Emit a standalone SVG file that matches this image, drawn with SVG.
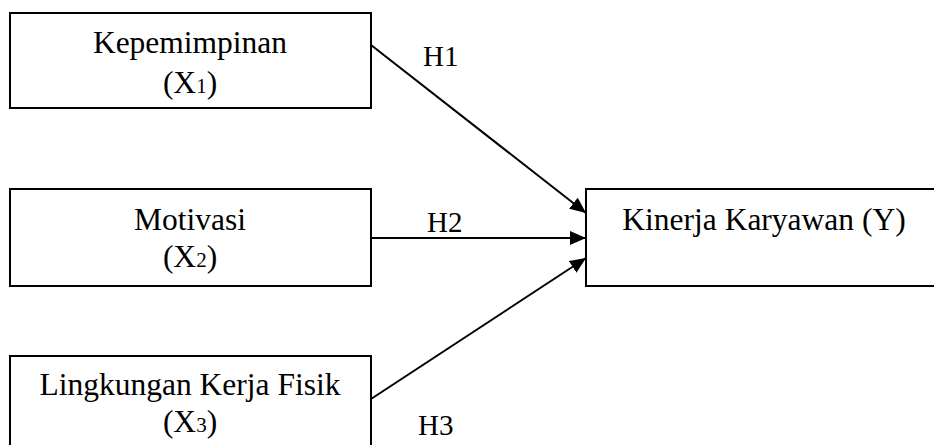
<svg xmlns="http://www.w3.org/2000/svg" width="934" height="445" viewBox="0 0 934 445">
  <style>
    .box { fill: #fff; stroke: #000; stroke-width: 2; }
    .lbl { font-family: "Liberation Serif", "Times New Roman", serif; font-size: 31.5px; fill: #000; text-anchor: middle; }
    .sub { font-size: 21px; }
    .edge { stroke: #000; stroke-width: 2; fill: none; marker-end: url(#arrow); }
    .h { font-family: "Liberation Serif", "Times New Roman", serif; font-size: 29px; fill: #000; }
  </style>
  <defs>
    <marker id="arrow" markerUnits="userSpaceOnUse" markerWidth="16" markerHeight="14" refX="16" refY="7" orient="auto">
      <path d="M0,0 L16,7 L0,14 Z" fill="#000"/>
    </marker>
  </defs>
  <rect width="934" height="445" fill="#fff"/>

  <g id="node-x1">
    <rect class="box" x="10" y="13" width="361" height="95"/>
    <text class="lbl" x="190" y="53">Kepemimpinan</text>
    <text class="lbl" x="190" y="93">(X<tspan class="sub">1</tspan>)</text>
  </g>

  <g id="node-x2">
    <rect class="box" x="10" y="189" width="361" height="97"/>
    <text class="lbl" x="190" y="230">Motivasi</text>
    <text class="lbl" x="190" y="267">(X<tspan class="sub">2</tspan>)</text>
  </g>

  <g id="node-x3">
    <rect class="box" x="10" y="356" width="361" height="100"/>
    <text class="lbl" x="190" y="395">Lingkungan Kerja Fisik</text>
    <text class="lbl" x="190" y="432">(X<tspan class="sub">3</tspan>)</text>
  </g>

  <g id="node-y">
    <rect class="box" x="586" y="189" width="360" height="97"/>
    <text class="lbl" x="764" y="230">Kinerja Karyawan (Y)</text>
  </g>

  <g id="connectors">
    <line class="edge" x1="371" y1="45" x2="586" y2="213"/>
    <line class="edge" x1="371" y1="238" x2="586" y2="238"/>
    <line class="edge" x1="371" y1="399" x2="586" y2="258"/>
    <text class="h" x="423" y="66">H1</text>
    <text class="h" x="427" y="232">H2</text>
    <text class="h" x="418" y="435">H3</text>
  </g>
</svg>
